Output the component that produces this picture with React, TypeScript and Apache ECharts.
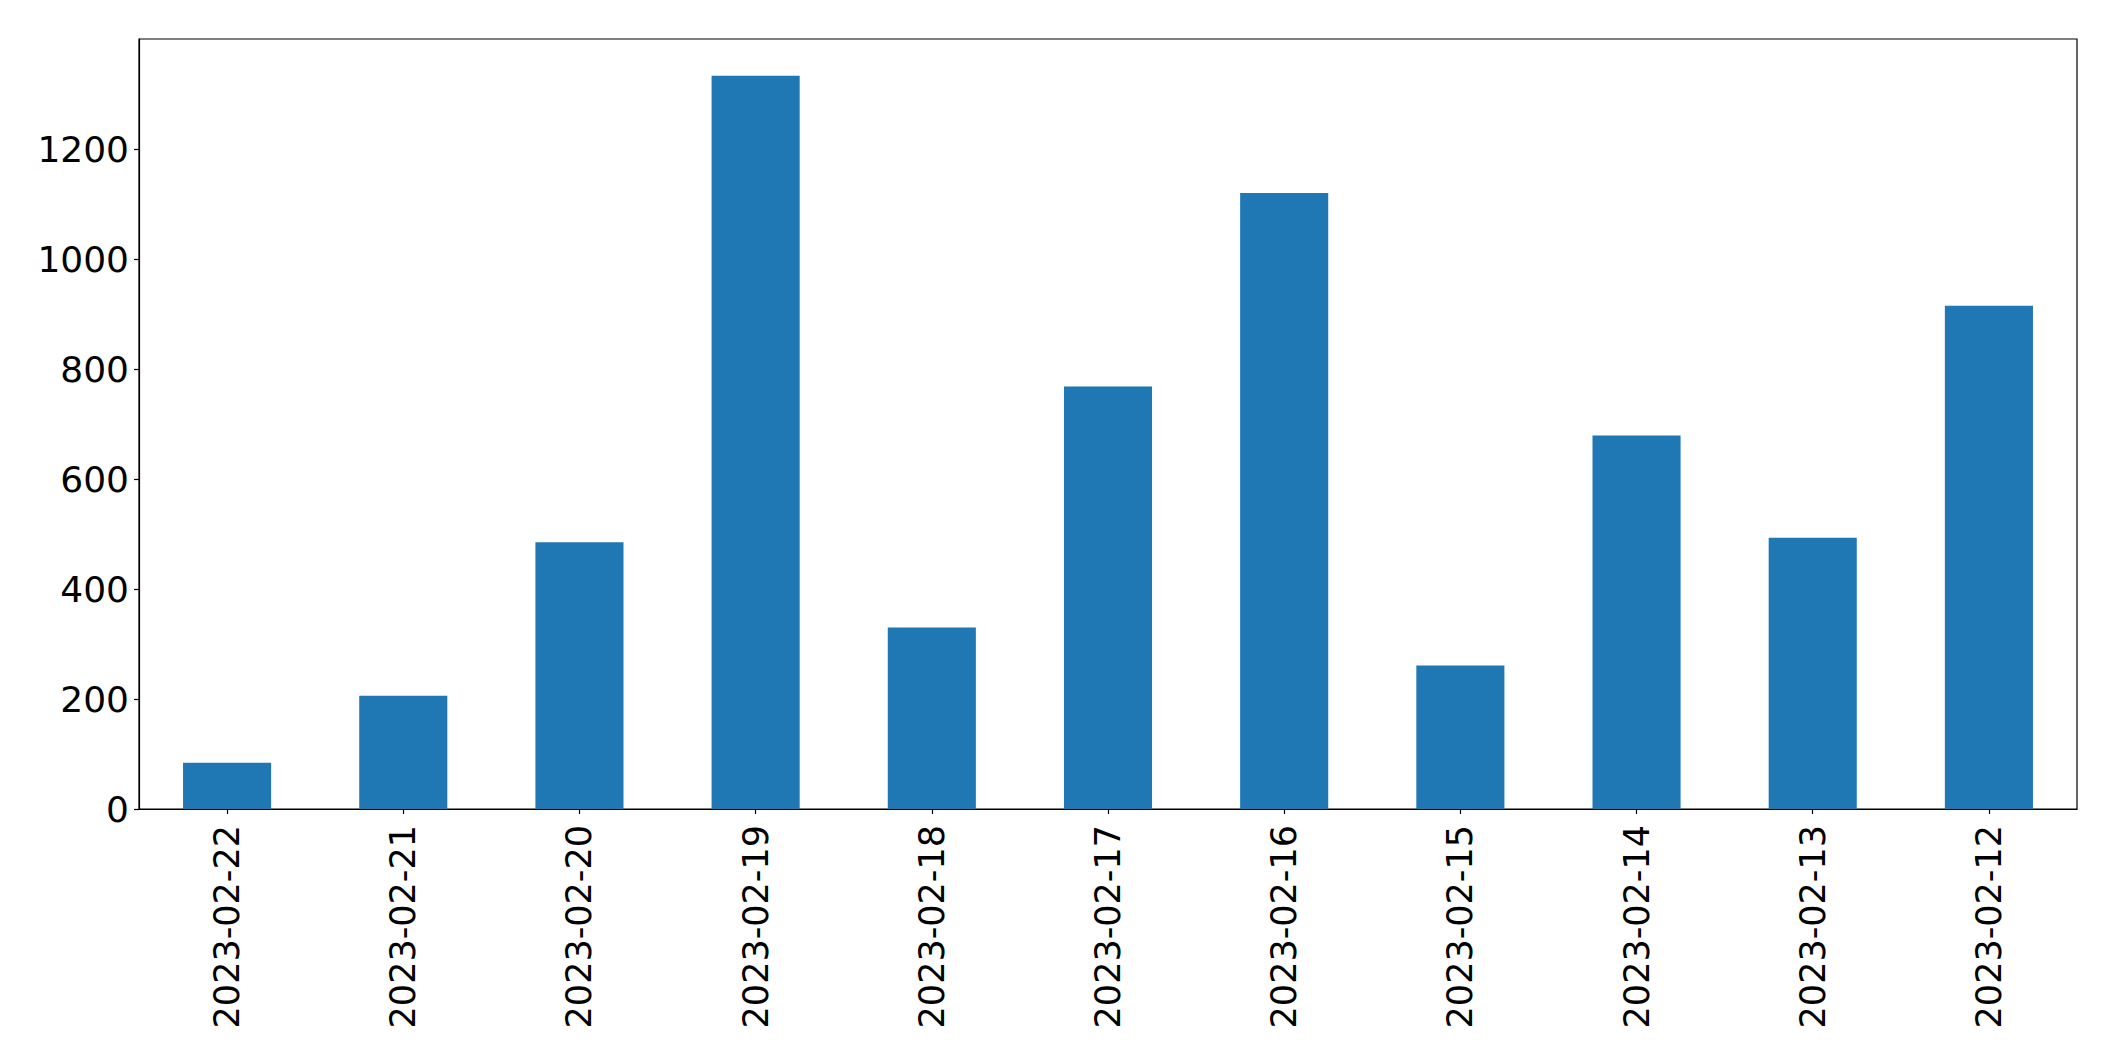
import React, { useEffect, useRef } from "react";
import * as echarts from "echarts";

const categories = [
  "2023-02-22",
  "2023-02-21",
  "2023-02-20",
  "2023-02-19",
  "2023-02-18",
  "2023-02-17",
  "2023-02-16",
  "2023-02-15",
  "2023-02-14",
  "2023-02-13",
  "2023-02-12",
];
const values = [84, 206, 485, 1333, 330, 768, 1120, 261, 679, 493, 915];
const yTicks = [0, 200, 400, 600, 800, 1000, 1200];
const yMax = 1400;

export default function App() {
  const ref = useRef<HTMLDivElement>(null);
  useEffect(() => {
    if (!ref.current) return;
    const chart = echarts.init(ref.current, null, { renderer: "svg" });
    const font = "DejaVu Sans";
    chart.setOption({
      animation: false,
      backgroundColor: "#ffffff",
      grid: {
        left: 139,
        top: 39,
        width: 1938,
        height: 770,
        show: true,
        borderColor: "#000000",
        borderWidth: 1.2,
        backgroundColor: "transparent",
        containLabel: false,
      },
      xAxis: {
        type: "category",
        data: categories,
        boundaryGap: true,
        axisLine: { show: true, lineStyle: { color: "#000000", width: 1.2 } },
        axisTick: {
          show: true,
          alignWithLabel: true,
          length: 5,
          lineStyle: { color: "#000000", width: 1.2 },
        },
        axisLabel: {
          rotate: 90,
          margin: 16,
          fontSize: 35,
          fontFamily: font,
          color: "#000000",
          interval: 0,
        },
        splitLine: { show: false },
      },
      yAxis: {
        type: "value",
        min: 0,
        max: yMax,
        interval: 200,
        axisLine: { show: true, lineStyle: { color: "#000000", width: 1.2 } },
        axisTick: {
          show: true,
          length: 5,
          lineStyle: { color: "#000000", width: 1.2 },
          customValues: yTicks,
        },
        axisLabel: {
          margin: 10,
          fontSize: 36,
          fontFamily: font,
          color: "#000000",
          customValues: yTicks,
          formatter: (v: number) => String(v),
        },
        splitLine: { show: false },
      },
      series: [
        {
          type: "bar",
          data: values,
          barWidth: "50%",
          itemStyle: { color: "#1f77b4" },
        },
      ],
    });
    return () => chart.dispose();
  }, []);
  return (
    <div
      ref={ref}
      style={{ position: "fixed", left: 0, top: 0, width: 2115, height: 1061, background: "#fff" }}
    />
  );
}
